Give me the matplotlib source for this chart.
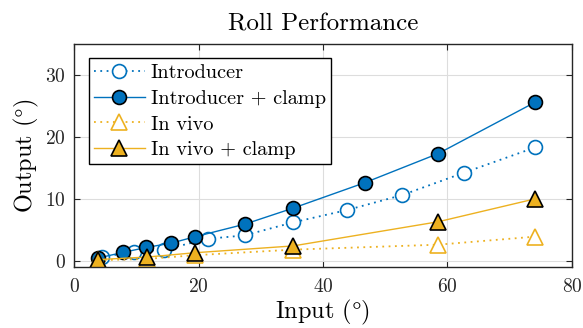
import matplotlib
matplotlib.use("Agg")
import matplotlib.pyplot as plt

# values
intro_x = [4.5, 9.7, 14.5, 21.5, 27.4, 35.2, 43.9, 52.7, 62.6, 74.1]
intro_y = [0.6, 1.45, 1.8, 3.55, 4.1, 6.2, 8.2, 10.6, 14.2, 18.3]

clamp_x = [3.8, 7.8, 11.6, 15.6, 19.4, 27.4, 35.2, 46.7, 58.5, 74.1]
clamp_y = [0.43, 1.34, 2.15, 2.85, 3.87, 5.9, 8.5, 12.6, 17.3, 25.6]

vivo_x = [3.9, 11.7, 19.4, 35.2, 58.5, 74.1]
vivo_y = [0.1, 0.3, 0.9, 1.8, 2.6, 3.9]

vivo_clamp_x = [3.9, 11.7, 19.4, 35.2, 58.5, 74.1]
vivo_clamp_y = [0.2, 0.6, 1.3, 2.4, 6.3, 10.0]

blue = "#0072BD"
yellow = "#EDB120"
dots = (0, (1, 2.5))

plt.rcParams["font.family"] = ["cmr10", "DejaVu Serif"]
plt.rcParams["mathtext.fontset"] = "cm"
plt.rcParams["axes.formatter.use_mathtext"] = True

fig = plt.figure(figsize=(5.83, 3.28), dpi=100)
ax = fig.add_axes([0.127, 0.186, 0.854, 0.680])

ax.plot(intro_x, intro_y, linestyle=dots, color=blue, marker="o", ms=10,
        mfc="white", mec=blue, mew=1.2, lw=1.3, label="Introducer")
ax.plot(clamp_x, clamp_y, "-", color=blue, marker="o", ms=10, mfc=blue,
        mec="black", mew=1.2, lw=1.0, label="Introducer + clamp")
ax.plot(vivo_x, vivo_y, linestyle=dots, color=yellow, marker="^", ms=11,
        mfc="white", mec=yellow, mew=1.2, lw=1.3, label="In vivo")
ax.plot(vivo_clamp_x, vivo_clamp_y, "-", color=yellow, marker="^", ms=11,
        mfc=yellow, mec="black", mew=1.2, lw=1.0, label="In vivo + clamp")

ax.set_xlim(0, 80)
ax.set_ylim(-1, 35)
ax.set_xticks([0, 20, 40, 60, 80])
ax.set_yticks([0, 10, 20, 30])
ax.grid(True, color="#dddddd", lw=0.8)
ax.set_axisbelow(True)
ax.tick_params(direction="in", top=True, right=True, labelsize=14, length=4,
               colors="#262626")
ax.tick_params(axis="x", pad=8)
ax.tick_params(axis="y", pad=6)
for s in ax.spines.values():
    s.set_linewidth(1.0)
    s.set_color("#262626")

ax.set_xlabel(r"Input $(\degree)$", fontsize=17.5, labelpad=1)
ax.set_ylabel(r"Output $(\degree)$", fontsize=17.5, labelpad=3)
ax.set_title("Roll Performance", fontsize=18, pad=10)

leg = ax.legend(loc="upper left", bbox_to_anchor=(0.03, 0.935), fontsize=14.6,
                fancybox=False, framealpha=1, edgecolor="black",
                handlelength=2.5, borderpad=0.25, labelspacing=0.38,
                handletextpad=0.3, borderaxespad=0)
leg.get_frame().set_linewidth(1.0)

fig.savefig("out.png", dpi=100)
